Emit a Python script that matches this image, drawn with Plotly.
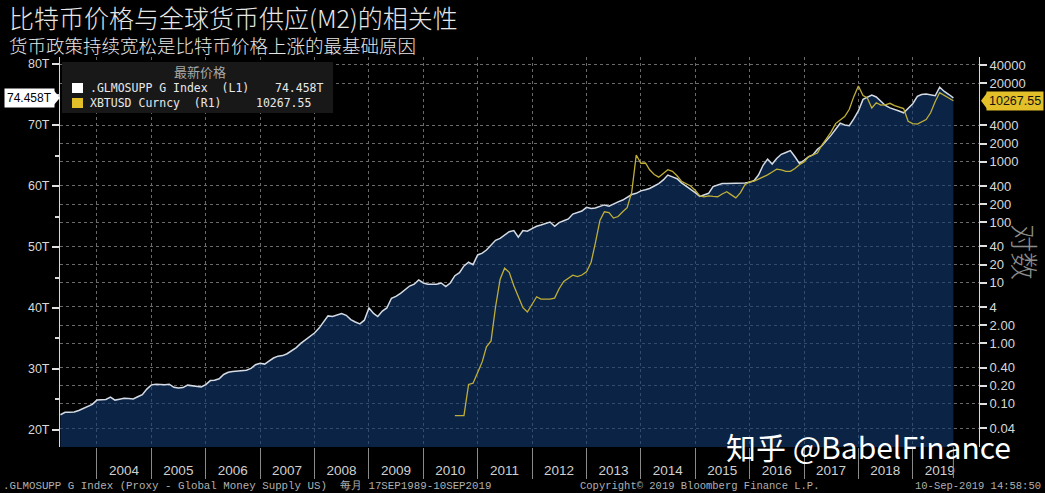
import math
import pandas as pd
import plotly.graph_objects as go

# ---------------- data ----------------
m2_start = "2003-05-01"
m2_trillion = [
    22.5, 22.9, 22.9, 22.95, 23.2, 23.5, 23.8, 24.2,
    24.9, 24.9, 25.0, 25.4, 24.9, 25.05, 25.2, 25.15, 25.1, 25.45, 25.8, 26.7,
    27.4, 27.5, 27.45, 27.4, 27.5, 27.0, 26.9, 26.95, 27.35, 27.25, 27.1, 27.05,
    27.45, 28.1, 28.15, 28.4, 29.1, 29.45, 29.6, 29.65, 29.7, 29.8, 30.1, 30.7,
    30.95, 30.8, 31.3, 31.8, 32.1, 32.2, 32.5, 33.0, 33.5, 34.2, 34.8, 35.3,
    35.9, 36.7, 37.6, 38.7, 38.6, 38.8, 39.1, 38.8, 38.1, 37.7, 37.4, 38.0,
    40.0, 39.1, 38.6, 39.5, 40.0, 41.6, 41.9, 42.4, 43.0, 43.6, 43.9, 44.6,
    44.1, 43.9, 43.9, 43.9, 44.1, 43.5, 44.1, 45.3, 45.8, 46.9, 47.5, 47.1,
    48.7, 49.0, 49.5, 50.3, 51.1, 51.4, 51.9, 52.5, 52.7, 51.6, 52.7, 52.6,
    53.0, 53.4, 53.6, 53.8, 54.1, 53.4, 54.0, 54.3, 54.6, 55.4, 55.6, 55.9,
    56.5, 56.3, 56.4, 56.7, 56.9, 56.7, 57.1, 57.4, 57.7, 58.1, 58.6, 58.8,
    59.2, 59.4, 59.6, 60.0, 60.4, 61.0, 61.8, 61.5, 61.2, 60.5, 60.0, 59.5,
    58.9, 58.3, 58.5, 58.8, 59.9, 60.1, 60.4, 60.4, 60.4, 60.4, 60.5, 60.5,
    60.6, 60.9, 61.8, 63.4, 64.4, 63.6, 64.5, 65.2, 65.5, 65.8, 64.8, 63.7,
    64.2, 64.8, 65.1, 66.0, 66.6, 67.4, 68.3, 69.3, 70.3, 70.0, 69.9, 71.0,
    72.3, 74.2, 74.6, 74.9, 74.6, 73.9, 73.2, 72.8, 72.6, 72.3, 72.0, 72.7,
    73.5, 74.7, 75.0, 75.1, 74.9, 74.8, 76.2, 75.5, 75.0, 74.458,
]

btc_start = "2010-08-01"
btc_usd = [
    0.064, 0.064, 0.064, 0.21, 0.22,
    0.33, 0.5, 0.88, 1.1, 4.0, 11.5, 17.5, 15.0, 9.0, 6.0, 3.9, 3.3,
    4.5, 5.9, 5.4, 5.4, 5.4, 5.6, 8.0, 10.6, 12.0, 13.4, 12.7, 13.5,
    15.2, 22, 45, 108, 150, 145, 118, 125, 150, 175, 320, 1300,
    950, 960, 740, 620, 560, 650, 745, 700, 590, 480, 440, 400,
    340, 275, 265, 275, 270, 266, 295, 322, 285, 255, 310, 420,
    470, 480, 520, 560, 610, 680, 760, 740, 700, 700, 780, 900,
    1000, 1220, 1300, 1400, 1900, 2500, 3100, 4300, 5000, 5600, 7400, 12000,
    18000, 12500, 11500, 7800, 9500, 8700, 8800, 9300, 8500, 8000, 7600, 4700,
    4300, 4200, 4500, 5000, 6500, 10000, 14000, 12500, 11500, 10267.55,
]

m2_last = 74.458
btc_last = 10267.55

years = list(range(2004, 2020))
year_labels = [str(y) for y in years]

left_ticks = [20, 30, 40, 50, 60, 70, 80]
left_labels = ["20T", "30T", "40T", "50T", "60T", "70T", "80T"]

right_ticks = [40000, 20000, 4000, 2000, 1000, 400, 200, 100, 40, 20, 10,
               4, 2, 1, 0.4, 0.2, 0.1, 0.04]
right_labels = ["40000", "20000", "4000", "2000", "1000", "400", "200", "100",
                "40", "20", "10", "4", "2.00", "1.00", "0.40", "0.20", "0.10", "0.04"]

# ---------------- figure ----------------
m2_dates = pd.date_range(m2_start, periods=len(m2_trillion), freq="MS")
btc_dates = pd.date_range(btc_start, periods=len(btc_usd), freq="MS")

W, H = 1045, 493
L, R, T, B = 60, 66, 57, 46
PW, PH = W - L - R, H - T - B


def px(x):
    return (x - L) / PW


def py(y):
    return (H - B - y) / PH


CJK = "Noto Sans CJK SC"
SANS = "Liberation Sans"
MONO = "DejaVu Sans Mono"
FOOT = "Liberation Mono"

fig = go.Figure()
fig.add_trace(go.Scatter(
    x=m2_dates, y=m2_trillion, mode="lines", name=".GLMOSUPP G Index",
    line=dict(color="#d4dbe4", width=1.5),
    fill="tozeroy", fillcolor="rgba(18,56,112,0.62)", yaxis="y",
))
fig.add_trace(go.Scatter(
    x=btc_dates, y=btc_usd, mode="lines", name="XBTUSD Curncy",
    line=dict(color="#bfae38", width=1.3), yaxis="y2",
))

fig.update_layout(
    width=W, height=H,
    margin=dict(l=L, r=R, t=T, b=B, autoexpand=False),
    paper_bgcolor="black", plot_bgcolor="black",
    showlegend=False,
    xaxis=dict(
        type="date", automargin=False,
        range=["2003-04-28", "2020-03-21"],
        tickmode="array",
        tickvals=[f"{y}-07-01" for y in years],
        ticktext=year_labels,
        ticks="",
        showgrid=False,
        zeroline=False,
        showline=False,
        ticklabelstandoff=13,
        tickfont=dict(family=SANS, size=13.5, color="#d0d0d0"),
        minor=dict(
            tickmode="array",
            tickvals=[f"{y}-01-01" for y in years],
            ticks="outside", ticklen=31, tickwidth=1, tickcolor="#8a8a8a",
            showgrid=True, gridcolor="#6a6a6a", griddash="dot", gridwidth=1,
        ),
    ),
    yaxis=dict(
        range=[17.21, 81.15], automargin=False,
        tickmode="array", tickvals=left_ticks, ticktext=left_labels,
        ticks="outside", ticklen=7, tickwidth=2, tickcolor="#e0e0e0",
        showgrid=False, zeroline=False,
        showline=True, linecolor="#d8d8d8", linewidth=1,
        tickfont=dict(family=SANS, size=12.5, color="#d8d8d8"),
        minor=dict(dtick=5, ticks="outside", ticklen=4, tickcolor="#d8d8d8", showgrid=False),
    ),
    yaxis2=dict(
        type="log", overlaying="y", side="right", automargin=False,
        range=[-1.712, 4.734],
        tickmode="array", tickvals=right_ticks, ticktext=right_labels,
        ticks="outside", ticklen=7, tickwidth=2, tickcolor="#e0e0e0",
        showgrid=True, gridcolor="#6a6a6a", griddash="dot", gridwidth=1,
        zeroline=False,
        showline=True, linecolor="#d8d8d8", linewidth=1,
        tickfont=dict(family=SANS, size=13, color="#d8d8d8"),
    ),
)

shapes = []
annos = []

# end-of-data separator on the date strip
shapes.append(dict(type="line", xref="x", yref="paper", x0="2019-10-01", x1="2019-10-01",
                   y0=0, y1=py(478), line=dict(color="#8a8a8a", width=1)))

# legend box
shapes.append(dict(type="rect", xref="paper", yref="paper", x0=px(62), x1=px(333),
                   y0=py(113), y1=py(62), fillcolor="#181818", line=dict(width=0), layer="above"))
shapes.append(dict(type="rect", xref="paper", yref="paper", x0=px(72), x1=px(83),
                   y0=py(93), y1=py(83), fillcolor="#ffffff", line=dict(width=0), layer="above"))
shapes.append(dict(type="rect", xref="paper", yref="paper", x0=px(72), x1=px(83),
                   y0=py(108), y1=py(98), fillcolor="#e3c02a", line=dict(width=0), layer="above"))

annos.append(dict(xref="paper", yref="paper", x=px(200), y=py(72), xanchor="center",
                  yanchor="middle", text="最新价格",
                  showarrow=False, font=dict(family=CJK, size=13, color="#a8a8a8")))
annos.append(dict(xref="paper", yref="paper", x=px(88), y=py(88), xanchor="left",
                  yanchor="middle", text=".GLMOSUPP G Index  (L1)", showarrow=False,
                  font=dict(family=MONO, size=11.5, color="#e8e8e8")))
annos.append(dict(xref="paper", yref="paper", x=px(326), y=py(88), xanchor="right",
                  yanchor="middle", text="74.458T", showarrow=False,
                  font=dict(family=MONO, size=11.5, color="#e8e8e8")))
annos.append(dict(xref="paper", yref="paper", x=px(88), y=py(103), xanchor="left",
                  yanchor="middle", text="XBTUSD Curncy  (R1)", showarrow=False,
                  font=dict(family=MONO, size=11.5, color="#e8e8e8")))
annos.append(dict(xref="paper", yref="paper", x=px(313), y=py(103), xanchor="right",
                  yanchor="middle", text="10267.55", showarrow=False,
                  font=dict(family=MONO, size=11.5, color="#e8e8e8")))

# last value tags
annos.append(dict(xref="paper", yref="y", x=0, y=m2_last, xanchor="right", xshift=-5,
                  yanchor="middle", text="74.458T", showarrow=False, bgcolor="#ffffff",
                  borderpad=2, font=dict(family=SANS, size=12, color="#000000")))
shapes.append(dict(type="path", xref="paper", yref="y", xsizemode="pixel", ysizemode="pixel",
                   xanchor=0, yanchor=m2_last, path="M -6,-7 L 0,0 L -6,7 Z",
                   fillcolor="#ffffff", line=dict(width=0)))
annos.append(dict(xref="paper", yref="y2", x=1, y=math.log10(btc_last), xanchor="left", xshift=7,
                  yanchor="middle", text="10267.55", showarrow=False, bgcolor="#e3c02a",
                  borderpad=2, font=dict(family=SANS, size=12.5, color="#111111")))
shapes.append(dict(type="path", xref="paper", yref="y2", xsizemode="pixel", ysizemode="pixel",
                   xanchor=1, yanchor=btc_last, path="M 8,-8 L 2,0 L 8,8 Z",
                   fillcolor="#e3c02a", line=dict(width=0)))

# titles
annos.append(dict(xref="paper", yref="paper", x=px(7), y=py(17), xanchor="left", yanchor="middle",
                  text="比特币价格与全球货币供应(M2)的相关性", showarrow=False,
                  font=dict(family=CJK, size=25, color="#e6e6e6", weight=300)))
annos.append(dict(xref="paper", yref="paper", x=px(7), y=py(45), xanchor="left", yanchor="middle",
                  text="货币政策持续宽松是比特币价格上涨的最基础原因", showarrow=False,
                  font=dict(family=CJK, size=18.5, color="#e6e6e6", weight=300)))

# right axis note
annos.append(dict(xref="paper", yref="paper", x=px(1025), y=py(252), xanchor="center",
                  yanchor="middle", textangle=90, text="对数", showarrow=False,
                  font=dict(family=CJK, size=28, color="#8c8c8c", weight=300)))

# watermark
annos.append(dict(xref="paper", yref="paper", x=px(868), y=py(446), xanchor="center",
                  yanchor="middle", text="知乎 @BabelFinance", showarrow=False,
                  font=dict(family=CJK, size=30, color="#ffffff")))

# footer
annos.append(dict(xref="paper", yref="paper", x=px(1), y=py(486), xanchor="left", yanchor="middle",
                  text=".GLMOSUPP G Index (Proxy - Global Money Supply US)  每月 17SEP1989-10SEP2019",
                  showarrow=False, font=dict(family=FOOT, size=10.8, color="#b0b0b0")))
annos.append(dict(xref="paper", yref="paper", x=px(578), y=py(486), xanchor="left", yanchor="middle",
                  text="Copyright© 2019 Bloomberg Finance L.P.",
                  showarrow=False, font=dict(family=FOOT, size=10.5, color="#b0b0b0")))
annos.append(dict(xref="paper", yref="paper", x=px(1043), y=py(486), xanchor="right", yanchor="middle",
                  text="10-Sep-2019 14:58:50",
                  showarrow=False, font=dict(family=FOOT, size=10.5, color="#b0b0b0")))

fig.update_layout(shapes=shapes, annotations=annos)
fig.write_html(
    "out.html",
    config={"displayModeBar": False},
    post_script="document.body.style.margin='0';document.body.style.padding='0';"
                "document.body.style.overflow='hidden';document.body.style.background='black';",
)
